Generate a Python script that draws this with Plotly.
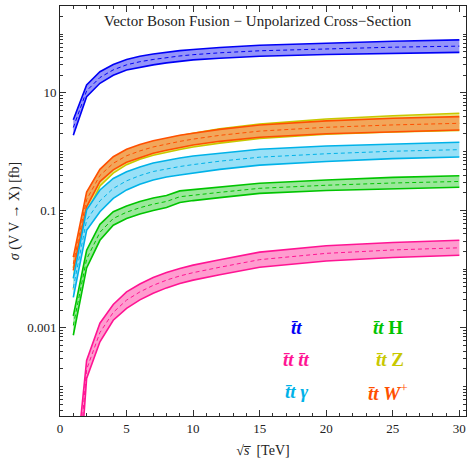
import plotly.graph_objects as go

# sqrt(s) in TeV
sqrt_s = [1, 2, 3, 4, 5, 6, 7, 8, 9, 10, 12, 15, 20, 25, 30]

# t tbar
tt_up = [3.5, 13.7, 23, 30.5, 37, 42, 46, 49.5, 52.5, 55, 59.5, 65, 71, 76, 80]
tt_c = [2.58, 10.85, 18.3, 24.7, 30.1, 34.0, 37.1, 40.1, 42.6, 44.8, 48.2, 52.2, 56.5, 60.1, 62.6]
tt_lo = [1.9, 8.6, 14.6, 20, 24.5, 27.5, 30, 32.5, 34.5, 36.5, 39, 42, 45, 47.5, 49]

# t tbar W+
ttw_up = [0.016, 0.205, 0.50, 0.82, 1.10, 1.33, 1.54, 1.72, 1.90, 2.06, 2.40, 2.85, 3.35, 3.70, 3.95]
ttw_c = [0.0123, 0.1535, 0.394, 0.634, 0.852, 1.03, 1.203, 1.35, 1.497, 1.636, 1.897, 2.24, 2.60, 2.853, 3.04]
ttw_lo = [0.0095, 0.115, 0.31, 0.49, 0.66, 0.80, 0.94, 1.06, 1.18, 1.30, 1.50, 1.76, 2.02, 2.20, 2.34]

# t tbar Z
ttz_up = [0.0105, 0.17, 0.44, 0.74, 1.02, 1.26, 1.48, 1.68, 1.87, 2.05, 2.45, 2.95, 3.6, 4.1, 4.5]
ttz_c = [0.00687, 0.120, 0.338, 0.564, 0.782, 0.966, 1.135, 1.283, 1.428, 1.568, 1.852, 2.226, 2.670, 2.983, 3.217]
ttz_lo = [0.0045, 0.085, 0.26, 0.43, 0.60, 0.74, 0.87, 0.98, 1.09, 1.20, 1.40, 1.68, 1.98, 2.17, 2.30]

# t tbar gamma
tta_up = [0.0070, 0.102, 0.223, 0.35, 0.455, 0.55, 0.64, 0.71, 0.78, 0.845, 0.95, 1.10, 1.25, 1.36, 1.445]
tta_c = [0.0048, 0.0685, 0.1456, 0.2366, 0.3186, 0.392, 0.4596, 0.5125, 0.5586, 0.6028, 0.689, 0.806, 0.922, 1.017, 1.082]
tta_lo = [0.0033, 0.046, 0.095, 0.16, 0.223, 0.28, 0.33, 0.37, 0.40, 0.43, 0.50, 0.59, 0.68, 0.76, 0.81]

# t tbar H
tth_up = [0.0016, 0.021, 0.058, 0.095, 0.119, 0.142, 0.163, 0.180, 0.215, 0.226, 0.25, 0.29, 0.33, 0.365, 0.39]
tth_c = [0.0011, 0.01485, 0.0424, 0.0729, 0.0932, 0.1111, 0.1277, 0.142, 0.171, 0.182, 0.2031, 0.2378, 0.2682, 0.2929, 0.311]
tth_lo = [0.00075, 0.0105, 0.031, 0.056, 0.073, 0.087, 0.100, 0.112, 0.136, 0.147, 0.165, 0.195, 0.218, 0.235, 0.248]

# t tbar t tbar
tttt_up = [1.6e-6, 0.00028, 0.0012, 0.0025, 0.0041, 0.0056, 0.0072, 0.0088, 0.0103, 0.0117, 0.0145, 0.0195, 0.025, 0.0285, 0.031]
tttt_c = [4e-7, 0.0001966, 0.000834, 0.001837, 0.002969, 0.0041, 0.0053, 0.0065, 0.00766, 0.00872, 0.01077, 0.01451, 0.01857, 0.02122, 0.02309]
tttt_lo = [1e-7, 0.000138, 0.00058, 0.00135, 0.00215, 0.0030, 0.0039, 0.0048, 0.0057, 0.0065, 0.0080, 0.0108, 0.0138, 0.0158, 0.0172]

x_ticks = [0, 5, 10, 15, 20, 25, 30]
y_ticks = [1e-3, 1e-1, 10]
y_ticktext = ["0.001", "0.1", "10"]

series = [
    (ttz_lo, ttz_c, ttz_up, "#C8C800", "#E8E880"),
    (ttw_lo, ttw_c, ttw_up, "#FF5000", "#F2A65A"),
    (tt_lo, tt_c, tt_up, "#0000F5", "#9494FA"),
    (tta_lo, tta_c, tta_up, "#00B2E8", "#98E0F7"),
    (tth_lo, tth_c, tth_up, "#00C400", "#9AE89A"),
    (tttt_lo, tttt_c, tttt_up, "#FF1493", "#FF9CCF"),
]

fig = go.Figure()
for lo, c, up, lc, fc in series:
    fig.add_trace(go.Scatter(x=sqrt_s, y=lo, mode="lines",
                             line=dict(color=lc, width=1.6), hoverinfo="skip"))
    fig.add_trace(go.Scatter(x=sqrt_s, y=up, mode="lines", fill="tonexty",
                             fillcolor=fc, line=dict(color=lc, width=1.6), hoverinfo="skip"))
    fig.add_trace(go.Scatter(x=sqrt_s, y=c, mode="lines",
                             line=dict(color=lc, width=1, dash="4px,3px"), hoverinfo="skip"))

serif = "Liberation Serif, Times New Roman, serif"

minor_x = [v for v in range(1, 31) if v % 5 != 0]
minor_y = [k * 10.0 ** n for n in range(-5, 3) for k in range(1, 10)
           if not (k == 1 and n in (-3, -1, 1))]

fig.update_layout(
    width=468, height=461,
    margin=dict(l=60, r=2, t=6, b=45),
    paper_bgcolor="white", plot_bgcolor="white",
    showlegend=False,
    font=dict(family=serif, size=13, color="#222"),
    xaxis=dict(range=[0, 30.5], tickmode="array", tickvals=x_ticks,
               ticks="inside", ticklen=6, tickwidth=1, tickcolor="#333",
               mirror="ticks", showline=True, linecolor="#222", linewidth=1,
               showgrid=False, zeroline=False,
               title=dict(text="\u221a<i>s\u0305</i>  [TeV]", standoff=10,
                          font=dict(family=serif, size=14, color="#222")),
               tickfont=dict(family=serif, size=13, color="#222"),
               minor=dict(tickmode="array", tickvals=minor_x, ticks="inside",
                          ticklen=3, tickcolor="#333", showgrid=False)),
    yaxis=dict(type="log", range=[-4.5, 2.48], tickmode="array",
               tickvals=y_ticks, ticktext=y_ticktext,
               ticks="inside", ticklen=6, tickwidth=1, tickcolor="#333",
               mirror="ticks", showline=True, linecolor="#222", linewidth=1,
               showgrid=False, zeroline=False,
               title=dict(text="<i>\u03c3</i> (V V \u2192 X) [fb]", standoff=4,
                          font=dict(family=serif, size=14, color="#222")),
               tickfont=dict(family=serif, size=13, color="#222"),
               minor=dict(tickmode="array", tickvals=minor_y, ticks="inside",
                          ticklen=3, tickcolor="#333", showgrid=False)),
)

ann = []
ann.append(dict(text="Vector Boson Fusion \u2212 Unpolarized Cross\u2212Section",
                xref="paper", yref="paper", x=0.488, y=0.963, showarrow=False,
                xanchor="center", yanchor="middle",
                font=dict(family=serif, size=15, color="#222")))

tb = "<b><i>t\u0304t</i></b>"
legend_items = [
    (tb, 17.75, 0.215, "#0000F5"),
    (tb + " " + tb, 17.8, 0.137, "#FF1493"),
    (tb + " <b><i>\u03b3</i></b>", 17.8, 0.059, "#00B2E8"),
    (tb + " <b>H</b>", 24.65, 0.215, "#00C400"),
    (tb + " <b>Z</b>", 24.8, 0.137, "#C8C800"),
    (tb + " <b><i>W</i></b><sup>+</sup>", 24.65, 0.059, "#FF5000"),
]
for txt, xx, yy, col in legend_items:
    ann.append(dict(text=txt, xref="x", yref="paper", x=xx, y=yy, showarrow=False,
                    xanchor="center", yanchor="middle",
                    font=dict(family=serif, size=19, color=col)))

fig.update_layout(annotations=ann)
fig.write_html("out.html")
